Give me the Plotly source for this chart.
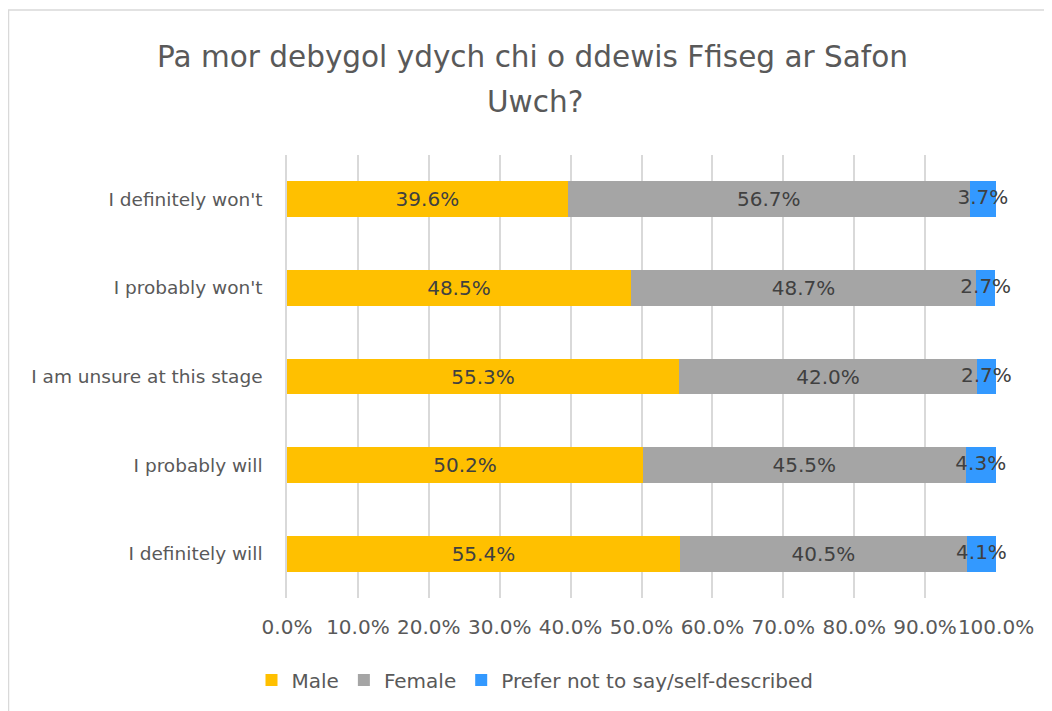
import plotly.graph_objects as go

categories = ["I definitely won't", "I probably won't", "I am unsure at this stage",
              "I probably will", "I definitely will"]
male = [39.6, 48.5, 55.3, 50.2, 55.4]
female = [56.7, 48.7, 42.0, 45.5, 40.5]
prefer = [3.7, 2.7, 2.7, 4.3, 4.1]
series_names = ["Male", "Female", "Prefer not to say/self-described"]
colors = ["#FFC000", "#A5A5A5", "#3399FF"]
tick_vals = [0, 10, 20, 30, 40, 50, 60, 70, 80, 90, 100]
tick_text = ["0.0%", "10.0%", "20.0%", "30.0%", "40.0%", "50.0%", "60.0%",
             "70.0%", "80.0%", "90.0%", "100.0%"]
title_lines = ["Pa mor debygol ydych chi o ddewis Ffiseg ar Safon", "Uwch?"]

FONT = "DejaVu Sans"
TXT = "#595959"
LBL = "#404040"

# plot area in figure pixels
L, R, T, B = 279, 988, 147, 590
PW, PH = R - L, B - T

fig = go.Figure()
series = [male, female, prefer]
for i, (name, vals, col) in enumerate(zip(series_names, series, colors)):
    is_last = i == len(series) - 1
    fig.add_trace(go.Bar(
        y=categories, x=vals, name=name, orientation="h",
        marker=dict(color=col, line=dict(width=0)),
        text=None if is_last else [f"{v:.1f}%" for v in vals],
        textposition="none" if is_last else "inside",
        insidetextanchor="middle",
        textangle=0, constraintext="none", cliponaxis=False,
        textfont=dict(family=FONT, size=20, color=LBL),
        hoverinfo="x+y+name",
    ))

# labels of the thin last segment (drawn unclipped, centred on the segment)
mid_last = [m + f + p / 2 for m, f, p in zip(male, female, prefer)]
fig.add_trace(go.Scatter(
    x=mid_last, y=categories, mode="text",
    text=[f"{v:.1f}%" for v in prefer], textposition="middle center",
    textfont=dict(family=FONT, size=20, color=LBL),
    showlegend=False, hoverinfo="skip", cliponaxis=False,
))

fig.update_layout(
    width=1052, height=711,
    barmode="stack", bargap=0.594,
    paper_bgcolor="white", plot_bgcolor="white",
    margin=dict(l=L, r=1052 - R, t=T, b=711 - B, autoexpand=False),
    font=dict(family=FONT, color=TXT),
    title=dict(text=title_lines[0],
               x=524.5 / 1052, xanchor="center", xref="container",
               y=1 - 49 / 711, yanchor="middle", yref="container",
               font=dict(family=FONT, size=29.5, color=TXT)),
    legend=dict(orientation="h", x=(527 - L) / PW, xanchor="center", xref="paper",
                y=(B - 672) / PH, yanchor="middle", yref="paper",
                font=dict(family=FONT, size=20, color=TXT),
                itemwidth=30, traceorder="normal"),
    showlegend=True,
)
fig.add_annotation(text=title_lines[1], xref="paper", yref="paper",
                   x=(527 - L) / PW, y=(B - 94) / PH, xanchor="center", yanchor="middle",
                   showarrow=False, font=dict(family=FONT, size=29.5, color=TXT))
fig.update_xaxes(range=[0, 100], tickvals=tick_vals, ticktext=tick_text,
                 showgrid=True, gridcolor="#D9D9D9", gridwidth=1.5,
                 zeroline=False, showline=False, ticks="",
                 tickfont=dict(family=FONT, size=20, color=TXT), tickangle=0,
                 automargin=False,
                 ticklabelstandoff=15, fixedrange=True)
fig.update_yaxes(autorange="reversed", showgrid=False, zeroline=False,
                 showline=True, linecolor="#D9D9D9", linewidth=1.5,
                 ticks="", tickfont=dict(family=FONT, size=18.5, color=TXT),
                 automargin=False,
                 ticklabelstandoff=19, fixedrange=True)
# chart border
fig.add_shape(type="rect", xref="paper", yref="paper",
              x0=(0.5 - L) / PW, x1=(1070 - L) / PW,
              y0=(B - 730) / PH, y1=(B - 2) / PH,
              line=dict(color="#D9D9D9", width=1.5), layer="below")

fig.write_html("out.html")
